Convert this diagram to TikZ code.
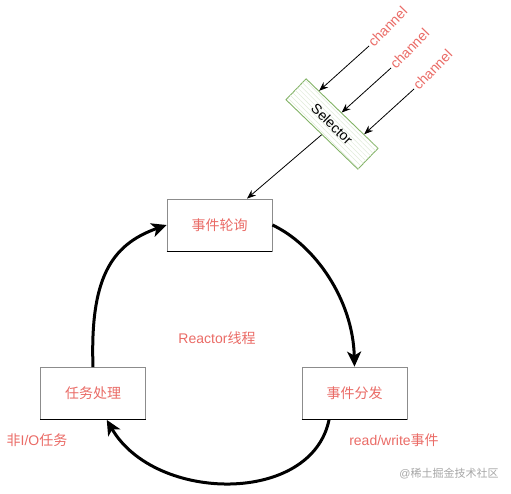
\documentclass[tikz,border=0pt]{standalone}
\usepackage{fontspec}
\setmainfont{Liberation Sans}
\newfontfamily\cjk{Noto Sans CJK SC}
\usetikzlibrary{arrows.meta,patterns.meta,calc}
\definecolor{lblred}{HTML}{EA6B66}
\definecolor{selgreen}{HTML}{82B366}
\begin{document}
\begin{tikzpicture}[x=1pt,y=1pt,
  box/.style={draw=black!45, fill=white, line width=0.8pt, minimum width=105pt, minimum height=52pt,
    font=\fontsize{14}{16}\cjk, text=lblred},
  lbl/.style={font=\fontsize{14}{16}\selectfont, text=lblred, inner sep=1pt},
  chan/.style={font=\fontsize{14}{16}\selectfont, text=lblred, rotate=46, anchor=west, inner sep=2pt},
  thin/.style={line width=0.8pt, -{Stealth[length=9pt,width=7pt]}},
  thick/.style={line width=3pt, -{Stealth[length=15pt,width=14pt,inset=4pt]}}]
\useasboundingbox (0,0) rectangle (511,493);
% boxes
\node[box] (poll) at (219.5,268) {事件轮询};
\node[box] (task) at (93,99.5) {任务处理};
\node[box] (dist) at (354.5,100) {事件分发};
\foreach \n in {poll,task,dist}{
  \draw[black, line width=1pt] (\n.south west) -- (\n.south east);
}
% selector
\node[draw=selgreen, line width=0.9pt, fill=white,
  postaction={pattern={Lines[angle=-45,distance=3.5pt,line width=0.5pt]}, pattern color=selgreen!25},
  minimum width=100pt, minimum height=29pt, rotate=-44,
  font=\fontsize{14}{16}\selectfont] (sel) at (332,369) {Selector};
% channel labels
\node[chan] (ch1) at (369,447) {channel};
\node[chan] (ch2) at (391,425) {channel};
\node[chan] (ch3) at (414,404) {channel};
\draw[thin] (ch1.west) -- ($(sel.north west)!0.18!(sel.north east)$);
\draw[thin] (ch2.west) -- ($(sel.north west)!0.49!(sel.north east)$);
\draw[thin] (ch3.west) -- ($(sel.north west)!0.80!(sel.north east)$);
\draw[thin] (sel.south) -- ($(poll.north west)!0.76!(poll.north east)$);
% loop
\draw[thick] (poll.east) .. controls (315,248) and (353,193) .. (dist.north);
\draw[thick] ($(dist.south west)!0.26!(dist.south east)$) .. controls (312,-12) and (155,-10) .. ($(task.south west)!0.63!(task.south east)$);
\draw[thick] (task.north) .. controls (90,213) and (110,248) .. (poll.west);
% labels
\node[lbl] (reactor) at (217,155) {Reactor{\cjk 线程}};
\node[lbl] (nonio) at (37,53) {{\cjk 非}I/O{\cjk 任务}};
\node[lbl] (rw) at (394,53) {read/write{\cjk 事件}};
\node[font=\fontsize{11}{13}\selectfont, text=black!35, inner sep=1pt] (wm) at (449,19) {@{\cjk 稀土掘金技术社区}};
\end{tikzpicture}
\end{document}
